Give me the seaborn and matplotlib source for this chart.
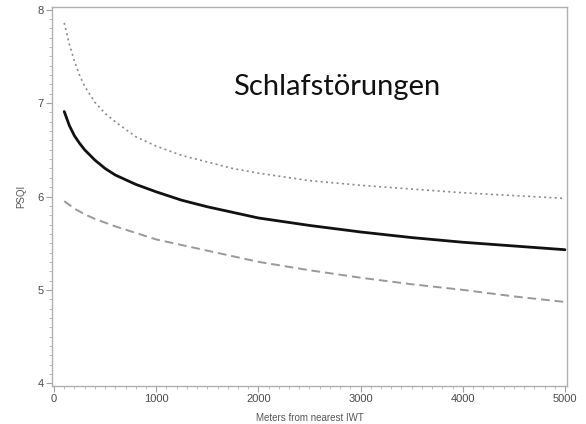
import matplotlib
matplotlib.use("Agg")
import matplotlib.pyplot as plt
import seaborn as sns
import pandas as pd
from matplotlib.ticker import MultipleLocator

distance = [100, 150, 200, 250, 300, 400, 500, 600, 800, 1000, 1250, 1500, 1750, 2000,
            2500, 3000, 3500, 4000, 4500, 5000]
psqi_mean = [6.91, 6.76, 6.65, 6.57, 6.50, 6.39, 6.30, 6.23, 6.13, 6.05, 5.96, 5.89, 5.83, 5.77,
             5.69, 5.62, 5.56, 5.51, 5.47, 5.43]
psqi_upper = [7.86, 7.63, 7.45, 7.30, 7.18, 7.01, 6.89, 6.80, 6.64, 6.54, 6.44, 6.37, 6.30, 6.25,
              6.17, 6.12, 6.08, 6.04, 6.01, 5.98]
psqi_lower = [5.95, 5.91, 5.87, 5.84, 5.81, 5.76, 5.72, 5.68, 5.61, 5.54, 5.48, 5.42, 5.36, 5.30,
              5.21, 5.13, 5.06, 5.00, 4.93, 4.87]

title_text = "Schlafstörungen"
x_label = "Meters from nearest IWT"
y_label = "PSQI"

df = pd.DataFrame({"x": distance, "mean": psqi_mean,
                   "upper": psqi_upper, "lower": psqi_lower})

sns.set_style("white")
plt.rcParams["font.family"] = ["Liberation Sans", "DejaVu Sans"]
fig = plt.figure(figsize=(5.86, 4.24), dpi=100)
ax = fig.add_axes([0.0887, 0.0896, 0.8789, 0.8939])

sns.lineplot(data=df, x="x", y="upper", ax=ax, color="#8a8a8a", lw=1.2,
             linestyle=(0, (1.2, 2.0)))
sns.lineplot(data=df, x="x", y="lower", ax=ax, color="#999999", lw=1.4,
             linestyle=(0, (4.5, 2.5)))
sns.lineplot(data=df, x="x", y="mean", ax=ax, color="#111111", lw=2.0)

ax.set_xlim(-20, 5020)
ax.set_ylim(3.97, 8.03)
ax.xaxis.set_major_locator(MultipleLocator(1000))
ax.xaxis.set_minor_locator(MultipleLocator(100))
ax.yaxis.set_major_locator(MultipleLocator(1))
ax.yaxis.set_minor_locator(MultipleLocator(0.1))

for s in ax.spines.values():
    s.set_color("#b0b0b0")
    s.set_linewidth(1.0)

ax.tick_params(axis="both", which="major", direction="out", length=4, width=0.8,
               color="#a0a0a0", labelsize=8, labelcolor="#4a4a4a", pad=2,
               bottom=True, left=True)
ax.tick_params(axis="both", which="minor", direction="out", length=2.5, width=0.6,
               color="#b0b0b0", bottom=True, left=True)

ax.set_xlabel(x_label, fontsize=7, color="#555555", labelpad=6)
ax.set_ylabel(y_label, fontsize=7, color="#555555", labelpad=8)

ax.text(0.553, 0.79, title_text, transform=ax.transAxes, ha="center", va="center",
        fontsize=21, color="#111111", family=["Lato", "DejaVu Sans"])

fig.savefig("out.png", dpi=100)
